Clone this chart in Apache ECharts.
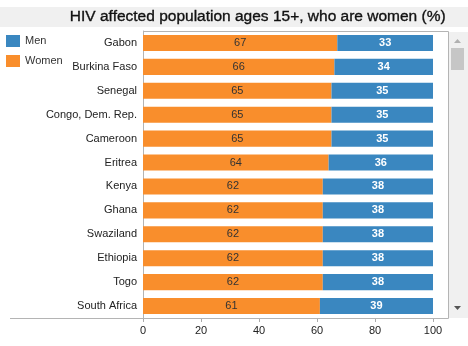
<!DOCTYPE html>
<html>
<head>
<meta charset="utf-8">
<script src="https://cdn.jsdelivr.net/npm/echarts@6/dist/echarts.min.js"></script>
<style>
  html, body { margin: 0; padding: 0; background: #ffffff; }
  #chart { width: 468px; height: 346px; }
</style>
</head>
<body>
<div id="chart"></div>
<script>
// Share of people aged 15+ living with HIV, split by sex (%)
var countries = ['Gabon', 'Burkina Faso', 'Senegal', 'Congo, Dem. Rep.', 'Cameroon', 'Eritrea',
                 'Kenya', 'Ghana', 'Swaziland', 'Ethiopia', 'Togo', 'South Africa'];
var women = [67, 66, 65, 65, 65, 64, 62, 62, 62, 62, 62, 61];
var men   = [33, 34, 35, 35, 35, 36, 38, 38, 38, 38, 38, 39];
var xTicks = [0, 20, 40, 60, 80, 100];

var FONT = '"Liberation Sans", Arial, sans-serif';
var chart = echarts.init(document.getElementById('chart'), null, { renderer: 'canvas' });

chart.setOption({
  animation: false,
  textStyle: { fontFamily: FONT },
  title: {
    text: 'HIV affected population ages 15+, who are women (%)',
    right: 22,
    top: 9,
    padding: 0,
    textStyle: {
      fontFamily: FONT, fontSize: 15.5, fontWeight: 'normal', color: '#111',
      textBorderColor: '#111', textBorderWidth: 0.35
    }
  },
  legend: {
    data: ['Men', 'Women'],
    orient: 'vertical',
    left: 6,
    top: 35,
    padding: 0,
    itemWidth: 14,
    itemHeight: 12,
    itemGap: 8,
    icon: 'rect',
    textStyle: { fontFamily: FONT, fontSize: 11, color: '#333', padding: [3, 0, 0, 0] }
  },
  grid: { left: 143, right: 35, top: 31, bottom: 28, containLabel: false },
  xAxis: {
    type: 'value',
    min: xTicks[0],
    max: xTicks[xTicks.length - 1],
    interval: 20,
    axisLine: { show: false },
    axisTick: { show: true, length: 4, lineStyle: { color: '#aaaaaa' } },
    splitLine: { show: false },
    axisLabel: { fontFamily: FONT, fontSize: 11, color: '#222', margin: 7 }
  },
  yAxis: {
    type: 'category',
    data: countries,
    inverse: true,
    axisLine: { show: true, lineStyle: { color: '#b4b4b4' } },
    axisTick: { show: false },
    axisLabel: { fontFamily: FONT, fontSize: 11, color: '#222', margin: 6 }
  },
  series: [
    {
      name: 'Women',
      type: 'bar',
      stack: 'total',
      data: women,
      barCategoryGap: '33%',
      itemStyle: { color: '#f98e2c' },
      label: { show: true, position: 'inside', fontFamily: FONT, fontSize: 11, color: '#333' }
    },
    {
      name: 'Men',
      type: 'bar',
      stack: 'total',
      data: men,
      barCategoryGap: '33%',
      itemStyle: { color: '#3a87c0' },
      label: { show: true, position: 'inside', fontFamily: FONT, fontSize: 11, fontWeight: 'bold', color: '#ffffff' }
    }
  ],
  graphic: [
    // title band
    { type: 'rect', z: -10, shape: { x: 0, y: 7, width: 468, height: 20 }, style: { fill: '#f0f0f0' } },
    // scroll track
    { type: 'rect', z: -10, shape: { x: 448, y: 32, width: 20, height: 286 }, style: { fill: '#f0f0f0' } },
    { type: 'rect', z: 10, shape: { x: 451, y: 48, width: 13, height: 22 }, style: { fill: '#c6c6c6' } },
    { type: 'polygon', z: 10, shape: { points: [[454, 43], [461, 43], [457.5, 39]] }, style: { fill: '#b0b0b0' } },
    { type: 'polygon', z: 10, shape: { points: [[454, 306], [461, 306], [457.5, 310]] }, style: { fill: '#555555' } },
    // plot frame
    { type: 'line', z: 10, shape: { x1: 143, y1: 31.5, x2: 448.5, y2: 31.5 }, style: { stroke: '#b4b4b4', lineWidth: 1 } },
    { type: 'line', z: 10, shape: { x1: 448.5, y1: 31.5, x2: 448.5, y2: 318.5 }, style: { stroke: '#b4b4b4', lineWidth: 1 } },
    { type: 'line', z: 10, shape: { x1: 10, y1: 318.5, x2: 448.5, y2: 318.5 }, style: { stroke: '#b4b4b4', lineWidth: 1 } }
  ]
});
</script>
</body>
</html>
